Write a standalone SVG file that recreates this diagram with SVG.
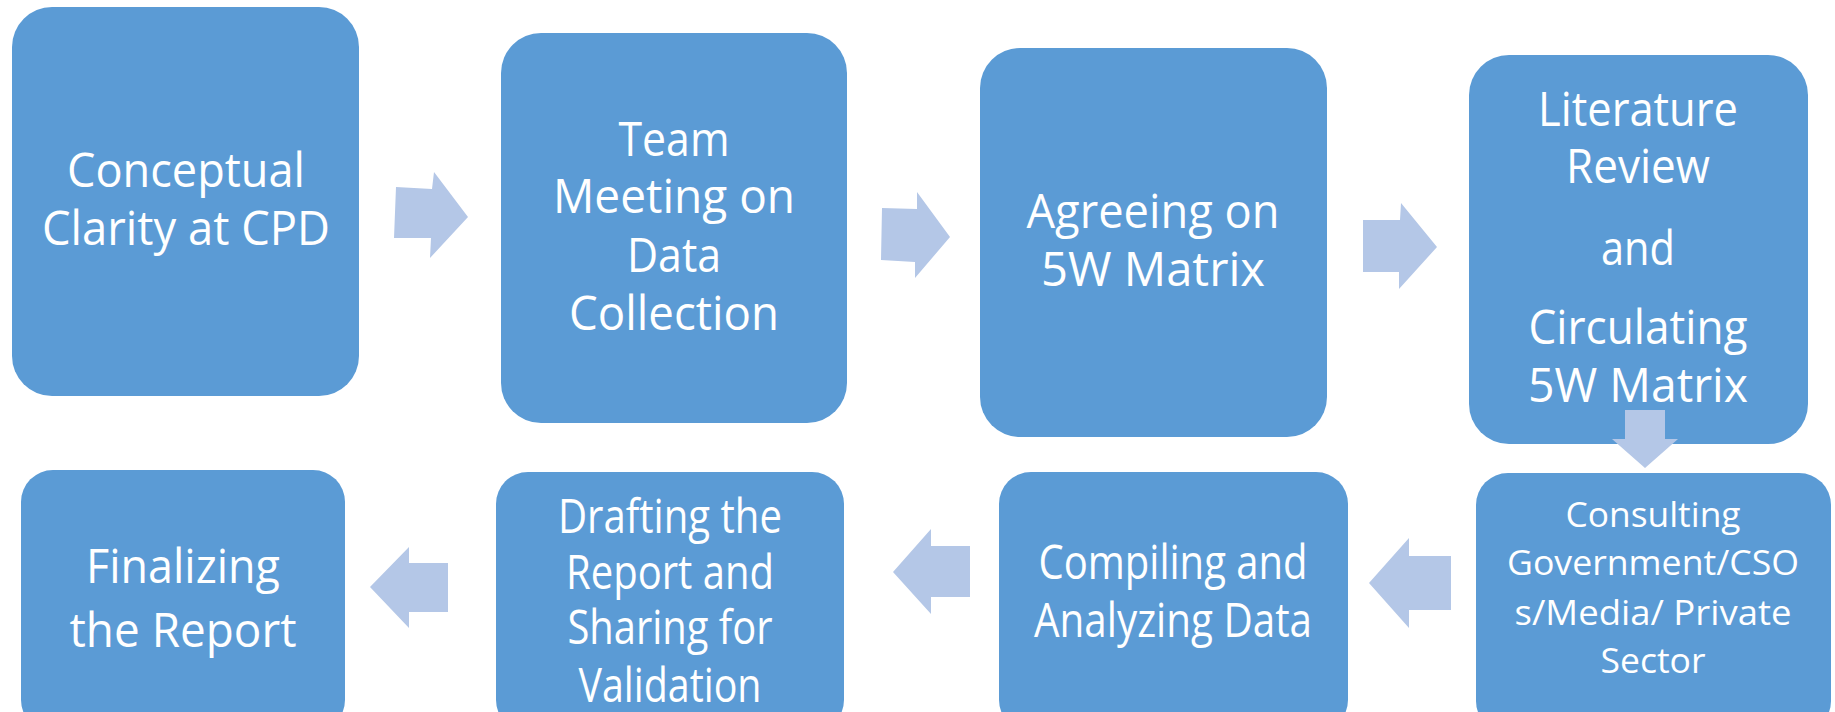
<svg xmlns="http://www.w3.org/2000/svg" width="1835" height="712" viewBox="0 0 1835 712">
<style>
.box{fill:#5B9BD5}
.arr{fill:#B4C7E7}
.t{font-family:"Open Sans","Noto Sans","Liberation Sans",sans-serif;fill:#FFFFFF;text-anchor:middle;font-size:47px}
.s{font-size:35px}
</style>
<rect width="1835" height="712" fill="#FFFFFF"/>
<g id="n1">
<rect class="box" x="12" y="7" width="347" height="389" rx="40"/>
<text class="t" x="186" y="187" textLength="238" lengthAdjust="spacingAndGlyphs">Conceptual</text>
<text class="t" x="186" y="245" textLength="288" lengthAdjust="spacingAndGlyphs">Clarity at CPD</text>
</g>
<g id="n2">
<rect class="box" x="501" y="33" width="346" height="390" rx="40"/>
<text class="t" x="674" y="156" textLength="111" lengthAdjust="spacingAndGlyphs">Team</text>
<text class="t" x="674" y="213" textLength="242" lengthAdjust="spacingAndGlyphs">Meeting on</text>
<text class="t" x="674" y="272" textLength="94" lengthAdjust="spacingAndGlyphs">Data</text>
<text class="t" x="674" y="330" textLength="210" lengthAdjust="spacingAndGlyphs">Collection</text>
</g>
<g id="n3">
<rect class="box" x="980" y="48" width="347" height="389" rx="40"/>
<text class="t" x="1153" y="228" textLength="253" lengthAdjust="spacingAndGlyphs">Agreeing on</text>
<text class="t" x="1153" y="286" textLength="224" lengthAdjust="spacingAndGlyphs">5W Matrix</text>
</g>
<g id="n4">
<rect class="box" x="1469" y="55" width="339" height="389" rx="40"/>
<text class="t" x="1638" y="126" textLength="200" lengthAdjust="spacingAndGlyphs">Literature</text>
<text class="t" x="1638" y="183" textLength="144" lengthAdjust="spacingAndGlyphs">Review</text>
<text class="t" x="1638" y="265" textLength="74" lengthAdjust="spacingAndGlyphs">and</text>
<text class="t" x="1638" y="344" textLength="219" lengthAdjust="spacingAndGlyphs">Circulating</text>
<text class="t" x="1638" y="402" textLength="220" lengthAdjust="spacingAndGlyphs">5W Matrix</text>
</g>
<g id="n5">
<rect class="box" x="1476" y="473" width="355" height="260" rx="32"/>
<text class="t s" x="1653" y="527" textLength="175" lengthAdjust="spacingAndGlyphs">Consulting</text>
<text class="t s" x="1653" y="575" textLength="292" lengthAdjust="spacingAndGlyphs">Government/CSO</text>
<text class="t s" x="1653" y="625" textLength="277" lengthAdjust="spacingAndGlyphs">s/Media/ Private</text>
<text class="t s" x="1653" y="673" textLength="105" lengthAdjust="spacingAndGlyphs">Sector</text>
</g>
<g id="n6">
<rect class="box" x="999" y="472" width="349" height="260" rx="32"/>
<text class="t" x="1173" y="579" textLength="269" lengthAdjust="spacingAndGlyphs">Compiling and</text>
<text class="t" x="1173" y="637" textLength="278" lengthAdjust="spacingAndGlyphs">Analyzing Data</text>
</g>
<g id="n7">
<rect class="box" x="496" y="472" width="348" height="260" rx="32"/>
<text class="t" x="670" y="533" textLength="224" lengthAdjust="spacingAndGlyphs">Drafting the</text>
<text class="t" x="670" y="589" textLength="208" lengthAdjust="spacingAndGlyphs">Report and</text>
<text class="t" x="670" y="644" textLength="205" lengthAdjust="spacingAndGlyphs">Sharing for</text>
<text class="t" x="670" y="702" textLength="183" lengthAdjust="spacingAndGlyphs">Validation</text>
</g>
<g id="n8">
<rect class="box" x="21" y="470" width="324" height="262" rx="32"/>
<text class="t" x="183" y="583" textLength="194" lengthAdjust="spacingAndGlyphs">Finalizing</text>
<text class="t" x="183" y="647" textLength="227" lengthAdjust="spacingAndGlyphs">the Report</text>
</g>
<g id="connectors">
<polygon class="arr" points="396,187 432,189 434,172 468,217 430,258 431,238 394,238"/>
<polygon class="arr" points="882,208 917,209 917,192 950,237 915,278 915,262 881,260"/>
<polygon class="arr" points="1363,220 1400,220 1401,203 1437,247 1399,289 1399,272 1363,272"/>
<polygon class="arr" points="1625,410 1665,410 1665,439 1678,439 1645,468 1612,439 1625,439"/>
<polygon class="arr" points="1451,556 1409,556 1409,538 1369,583 1409,628 1409,610 1451,610"/>
<polygon class="arr" points="970,546 931,546 931,529 893,572 931,614 931,597 970,597"/>
<polygon class="arr" points="448,563 409,563 409,547 370,587 409,628 409,612 448,612"/>
</g>
</svg>
